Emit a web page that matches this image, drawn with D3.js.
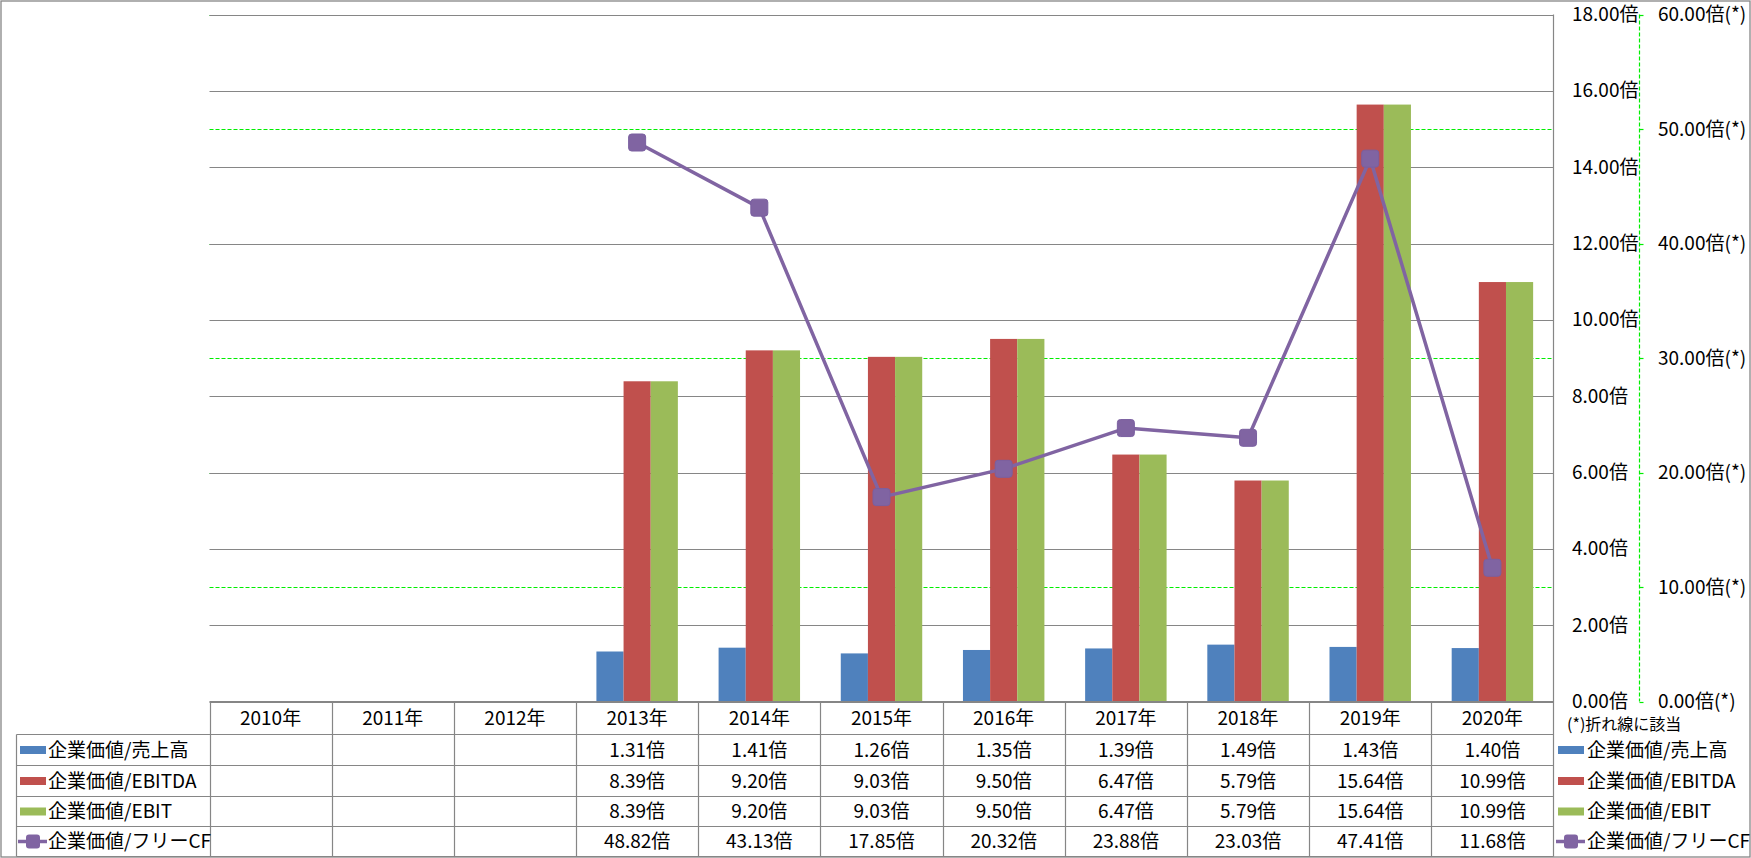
<!DOCTYPE html>
<html><head><meta charset="utf-8">
<script src="https://cdn.jsdelivr.net/npm/d3@7"></script>
<style>
html,body{margin:0;padding:0;background:#fff;}
text{font-family:"Noto Sans CJK JP","Noto Sans",sans-serif;fill:#000;}
</style></head>
<body>
<svg id="c" width="1751" height="858"></svg>
<script>
const years = ["2010年","2011年","2012年","2013年","2014年","2015年","2016年","2017年","2018年","2019年","2020年"];
const seriesNames = ["企業価値/売上高","企業価値/EBITDA","企業価値/EBIT","企業価値/フリーCF"];
const evSales  = [null,null,null,1.31,1.41,1.26,1.35,1.39,1.49,1.43,1.40];
const evEbitda = [null,null,null,8.39,9.20,9.03,9.50,6.47,5.79,15.64,10.99];
const evEbit   = [null,null,null,8.39,9.20,9.03,9.50,6.47,5.79,15.64,10.99];
const evFcf    = [null,null,null,48.82,43.13,17.85,20.32,23.88,23.03,47.41,11.68];
const leftTicks = [0,2,4,6,8,10,12,14,16,18];
const rightTicks = [0,10,20,30,40,50,60];
const colors = ["#4F81BD","#C0504D","#9BBB59","#8064A2"];

const svg = d3.select("#c");
const W=1751,H=858;
const pL=209.5,pR=1553.5,pT=14.5,pB=701.5;
const grey="#868686";
const fs=19;

svg.append("rect").attr("x",1).attr("y",1).attr("width",W-2).attr("height",H-2).attr("fill","#fff").attr("stroke",grey).attr("stroke-width",1.3);

const x = d3.scaleBand().domain(years).range([pL,pR]).padding(0);
const bw = x.bandwidth();
const barW = bw/4.5;
const gapHalf = bw*0.75/4.5;
const y = d3.scaleLinear().domain([0,18]).range([pB,pT]);
const y2 = d3.scaleLinear().domain([0,60]).range([pB,pT]);

// green dashed secondary gridlines
svg.append("g").selectAll("line").data(rightTicks.filter(d=>d>0)).join("line")
  .attr("x1",pL).attr("x2",pR).attr("y1",d=>Math.round(y2(d))+0.5).attr("y2",d=>Math.round(y2(d))+0.5)
  .attr("stroke","#00EE00").attr("stroke-width",1.2).attr("stroke-dasharray","4,2");
// grey primary gridlines
svg.append("g").selectAll("line").data(leftTicks).join("line")
  .attr("x1",pL).attr("x2",pR).attr("y1",d=>Math.round(y(d))+0.5).attr("y2",d=>Math.round(y(d))+0.5)
  .attr("stroke",grey).attr("stroke-width",1.2);

// bars
const barSeries=[evSales,evEbitda,evEbit];
barSeries.forEach((arr,si)=>{
  svg.append("g").selectAll("rect").data(years.map((yr,i)=>({yr,v:arr[i]})).filter(d=>d.v!=null)).join("rect")
    .attr("x",d=>x(d.yr)+gapHalf+si*barW)
    .attr("width",barW)
    .attr("y",d=>y(d.v)).attr("height",d=>pB-y(d.v))
    .attr("fill",colors[si]);
});

// line
const pts = years.map((yr,i)=>({yr,v:evFcf[i]}));
const line = d3.line().defined(d=>d.v!=null).x(d=>x(d.yr)+bw/2).y(d=>y2(d.v));
svg.append("path").datum(pts).attr("d",line).attr("fill","none").attr("stroke",colors[3]).attr("stroke-width",3.5).attr("stroke-linejoin","round");
const ms=17;
svg.append("g").selectAll("rect").data(pts.filter(d=>d.v!=null)).join("rect")
  .attr("x",d=>x(d.yr)+bw/2-ms/2).attr("y",d=>y2(d.v)-ms/2).attr("width",ms).attr("height",ms).attr("rx",3)
  .attr("fill",colors[3]).attr("stroke","#7A5FA0").attr("stroke-width",1);

// right edge vertical
svg.append("line").attr("x1",pR).attr("x2",pR).attr("y1",pT).attr("y2",856.5).attr("stroke",grey).attr("stroke-width",1.2);

// primary axis labels
svg.append("g").selectAll("text").data(leftTicks).join("text")
  .attr("x",1572).attr("y",d=>y(d)).attr("dy","0.35em").attr("font-size",fs).text(d=>d.toFixed(2)+"倍");

// secondary axis
const ax2x=1639.5;
svg.append("line").attr("x1",ax2x).attr("x2",ax2x).attr("y1",pT).attr("y2",pB).attr("stroke","#00EE00").attr("stroke-width",1.2).attr("stroke-dasharray","4,2");
svg.append("g").selectAll("line").data(rightTicks).join("line")
  .attr("x1",ax2x).attr("x2",ax2x+4).attr("y1",d=>Math.round(y2(d))+0.5).attr("y2",d=>Math.round(y2(d))+0.5)
  .attr("stroke","#00EE00").attr("stroke-width",1.2);
svg.append("g").selectAll("text").data(rightTicks).join("text")
  .attr("x",1658).attr("y",d=>y2(d)).attr("dy","0.35em").attr("font-size",fs).text(d=>d.toFixed(2)+"倍(*)");
svg.append("text").attr("x",1567).attr("y",724).attr("dy","0.35em").attr("font-size",16).text("(*)折れ線に該当");

// data table
const rowB=[701.5,734.5,765.5,796.5,826.5,856.5];
const tL=16.5;
svg.append("line").attr("x1",pL).attr("x2",pR).attr("y1",rowB[0]).attr("y2",rowB[0]).attr("stroke",grey).attr("stroke-width",1.2);
svg.append("g").selectAll("line").data(rowB.slice(1)).join("line")
  .attr("x1",tL).attr("x2",pR).attr("y1",d=>d).attr("y2",d=>d).attr("stroke",grey).attr("stroke-width",1.2);
svg.append("g").selectAll("line").data(years).join("line")
  .attr("x1",d=>Math.round(x(d))+0.5).attr("x2",d=>Math.round(x(d))+0.5).attr("y1",rowB[0]).attr("y2",rowB[5])
  .attr("stroke",grey).attr("stroke-width",1.2);
svg.append("line").attr("x1",tL).attr("x2",tL).attr("y1",rowB[1]).attr("y2",rowB[5]).attr("stroke",grey).attr("stroke-width",1.2);
svg.append("g").selectAll("text").data(years).join("text")
  .attr("x",d=>x(d)+bw/2).attr("y",(rowB[0]+rowB[1])/2).attr("dy","0.35em").attr("text-anchor","middle").attr("font-size",fs).text(d=>d);
const allSeries=[evSales,evEbitda,evEbit,evFcf];
allSeries.forEach((arr,si)=>{
  const cy=(rowB[si+1]+rowB[si+2])/2;
  svg.append("g").selectAll("text").data(years.map((yr,i)=>({yr,v:arr[i]})).filter(d=>d.v!=null)).join("text")
    .attr("x",d=>x(d.yr)+bw/2).attr("y",cy).attr("dy","0.35em").attr("text-anchor","middle").attr("font-size",fs)
    .text(d=>d.v.toFixed(2)+"倍");
  drawKey(20,cy,si);
  svg.append("text").attr("x",48).attr("y",cy).attr("dy","0.35em").attr("font-size",fs).text(seriesNames[si]);
  drawKey(1558,cy,si);
  svg.append("text").attr("x",1587).attr("y",cy).attr("dy","0.35em").attr("font-size",fs).text(seriesNames[si]);
});
function drawKey(x0,cy,si){
  if(si<3){
    svg.append("rect").attr("x",x0).attr("y",cy-4).attr("width",26).attr("height",8).attr("fill",colors[si]);
  } else {
    svg.append("line").attr("x1",x0-2).attr("x2",x0+27).attr("y1",cy).attr("y2",cy).attr("stroke",colors[3]).attr("stroke-width",3.5);
    svg.append("rect").attr("x",x0+6).attr("y",cy-7).attr("width",14).attr("height",14).attr("rx",3).attr("fill",colors[3]);
  }
}
</script>
</body></html>
